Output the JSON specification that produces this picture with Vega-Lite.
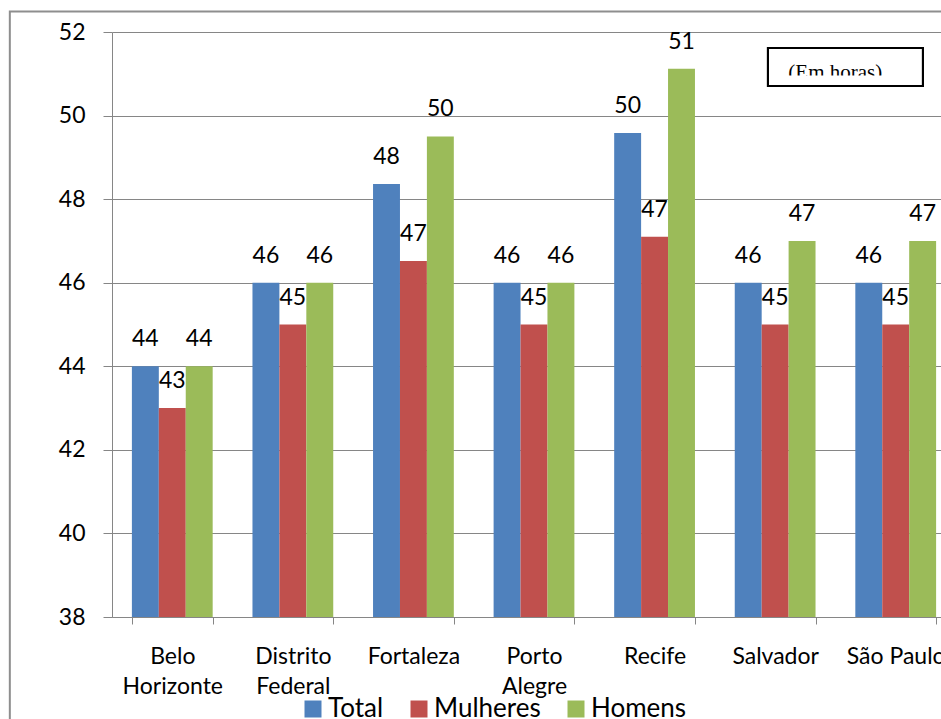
{
  "$schema": "https://vega.github.io/schema/vega-lite/v6.json",
  "autosize": "none",
  "width": 829,
  "height": 585,
  "padding": {"left": 112, "top": 32, "right": 0, "bottom": 102},
  "background": "white",
  "config": {
    "view": {"stroke": null},
    "font": "Lato",
    "axis": {
      "domainColor": "#868686",
      "tickColor": "#868686",
      "gridColor": "#868686",
      "labelColor": "#000000",
      "labelFont": "Lato",
      "title": null
    },
    "legend": {"padding": 0}
  },
  "datasets": {
    "horas": [
      {"cidade": "Belo Horizonte", "grupo": "Total", "horas": 44},
      {"cidade": "Belo Horizonte", "grupo": "Mulheres", "horas": 43},
      {"cidade": "Belo Horizonte", "grupo": "Homens", "horas": 44},
      {"cidade": "Distrito Federal", "grupo": "Total", "horas": 46},
      {"cidade": "Distrito Federal", "grupo": "Mulheres", "horas": 45},
      {"cidade": "Distrito Federal", "grupo": "Homens", "horas": 46},
      {"cidade": "Fortaleza", "grupo": "Total", "horas": 48.36},
      {"cidade": "Fortaleza", "grupo": "Mulheres", "horas": 46.52},
      {"cidade": "Fortaleza", "grupo": "Homens", "horas": 49.5},
      {"cidade": "Porto Alegre", "grupo": "Total", "horas": 46},
      {"cidade": "Porto Alegre", "grupo": "Mulheres", "horas": 45},
      {"cidade": "Porto Alegre", "grupo": "Homens", "horas": 46},
      {"cidade": "Recife", "grupo": "Total", "horas": 49.58},
      {"cidade": "Recife", "grupo": "Mulheres", "horas": 47.1},
      {"cidade": "Recife", "grupo": "Homens", "horas": 51.12},
      {"cidade": "Salvador", "grupo": "Total", "horas": 46},
      {"cidade": "Salvador", "grupo": "Mulheres", "horas": 45},
      {"cidade": "Salvador", "grupo": "Homens", "horas": 47},
      {"cidade": "São Paulo", "grupo": "Total", "horas": 46},
      {"cidade": "São Paulo", "grupo": "Mulheres", "horas": 45},
      {"cidade": "São Paulo", "grupo": "Homens", "horas": 47}
    ],
    "nota": [
      {"cidade": "Salvador", "nota": "(Em horas)"}
    ],
    "quadro": [
      {"cidade": "Belo Horizonte"}
    ]
  },
  "layer": [
    {
      "data": {"name": "horas"},
      "mark": {"type": "bar"},
      "encoding": {
        "x": {
          "field": "cidade",
          "type": "nominal",
          "sort": ["Belo Horizonte", "Distrito Federal", "Fortaleza", "Porto Alegre", "Recife", "Salvador", "São Paulo"],
          "scale": {"range": [0, 844], "paddingInner": 0.33, "paddingOuter": 0.165},
          "axis": {
            "labelAngle": 0,
            "labelFontSize": 23,
            "labelLineHeight": 30,
            "labelPadding": 21,
            "tickSize": 7,
            "tickBand": "extent",
            "labelExpr": "datum.label == 'São Paulo' ? datum.label : split(datum.label, ' ')"
          }
        },
        "y": {
          "field": "horas",
          "type": "quantitative",
          "scale": {"domain": [38, 52], "nice": false, "zero": false},
          "axis": {
            "values": [38, 40, 42, 44, 46, 48, 50, 52],
            "labelFontSize": 23,
            "tickSize": 9,
            "labelPadding": 18,
            "grid": true,
            "domain": true
          }
        },
        "y2": {"datum": 38},
        "xOffset": {"field": "grupo", "type": "nominal", "sort": ["Total", "Mulheres", "Homens"], "scale": {"paddingInner": 0, "paddingOuter": 0}},
        "color": {
          "field": "grupo",
          "type": "nominal",
          "sort": ["Total", "Mulheres", "Homens"],
          "scale": {"domain": ["Total", "Mulheres", "Homens"], "range": ["#4F81BD", "#C0504D", "#9BBB59"]},
          "legend": {
            "title": null,
            "orient": "none",
            "legendX": 188,
            "legendY": 664,
            "direction": "horizontal",
            "symbolType": "square",
            "symbolSize": 289,
            "symbolStrokeWidth": 0,
            "labelFontSize": 26,
            "labelFont": "Lato",
            "labelColor": "#000000",
            "labelOffset": 2,
            "columnPadding": 22
          }
        }
      }
    },
    {
      "data": {"name": "horas"},
      "mark": {"type": "text", "baseline": "alphabetic", "dy": -20, "fontSize": 23, "font": "Lato", "color": "#000000"},
      "encoding": {
        "x": {"field": "cidade", "type": "nominal", "sort": ["Belo Horizonte", "Distrito Federal", "Fortaleza", "Porto Alegre", "Recife", "Salvador", "São Paulo"]},
        "y": {"field": "horas", "type": "quantitative"},
        "xOffset": {"field": "grupo", "type": "nominal", "sort": ["Total", "Mulheres", "Homens"], "scale": {"paddingInner": 0, "paddingOuter": 0}},
        "text": {"field": "horas", "type": "quantitative", "format": ".0f"}
      }
    },
    {
      "data": {"name": "nota"},
      "mark": {"type": "point", "shape": "M -1 -0.245 L 1 -0.245 L 1 0.245 L -1 0.245 Z", "filled": true, "fill": "#ffffff", "stroke": "#000000", "strokeWidth": 2, "opacity": 1, "size": 24025},
      "encoding": {
        "x": {"field": "cidade", "type": "nominal", "bandPosition": 1.37},
        "y": {"datum": 51.16}
      }
    },
    {
      "data": {"name": "nota"},
      "mark": {"type": "text", "font": "Liberation Serif", "fontSize": 21, "baseline": "alphabetic", "align": "center", "color": "#000000"},
      "encoding": {
        "x": {"field": "cidade", "type": "nominal", "bandPosition": 1.244},
        "y": {"datum": 50.875},
        "text": {"field": "nota", "type": "nominal"}
      }
    },
    {
      "data": {"name": "nota"},
      "mark": {"type": "point", "shape": "M -1 -0.063 L 1 -0.063 L 1 0.063 L -1 0.063 Z", "filled": true, "fill": "#ffffff", "strokeWidth": 0, "opacity": 1, "size": 22801},
      "encoding": {
        "x": {"field": "cidade", "type": "nominal", "bandPosition": 1.37},
        "y": {"datum": 50.845}
      }
    },
    {
      "data": {"name": "nota"},
      "mark": {"type": "point", "shape": "M -1 -0.245 L 1 -0.245 L 1 0.245 L -1 0.245 Z", "filled": false, "stroke": "#000000", "strokeWidth": 2, "opacity": 1, "size": 24025},
      "encoding": {
        "x": {"field": "cidade", "type": "nominal", "bandPosition": 1.37},
        "y": {"datum": 51.16}
      }
    },
    {
      "data": {"name": "quadro"},
      "mark": {"type": "point", "shape": "M 0 1 L 0 0 L 1 0", "filled": false, "stroke": "#8e8e8e", "strokeWidth": 2, "opacity": 1, "size": 4000000},
      "encoding": {
        "x": {"field": "cidade", "type": "nominal", "bandPosition": -1.511},
        "y": {"datum": 52.49}
      }
    }
  ]
}
